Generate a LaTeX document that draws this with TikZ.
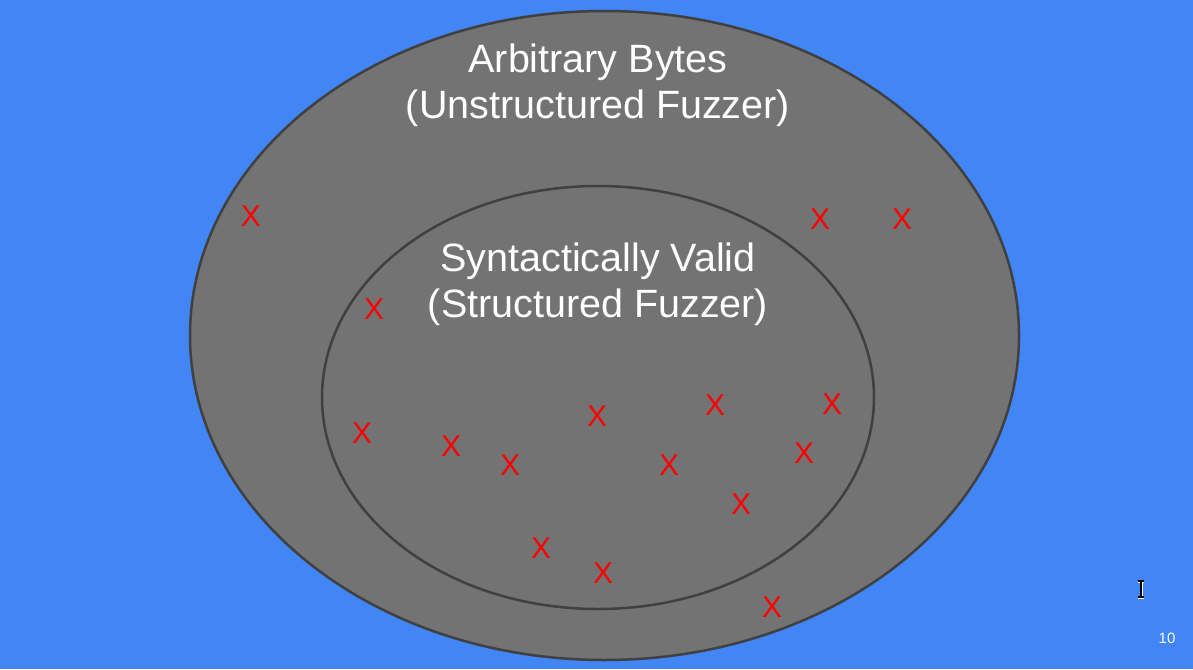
\documentclass[tikz,border=0pt]{standalone}
\usepackage{fontspec}
\setmainfont{Liberation Sans}
\definecolor{slideblue}{HTML}{4285F4}
\definecolor{setgray}{HTML}{737373}
\definecolor{edgegray}{HTML}{404040}
\tikzset{
  setfill/.style={fill=setgray, draw=edgegray, line width=2.5pt},
  setlabel/.style={text=white, align=center, font=\fontsize{39.5}{46}\selectfont},
  crash/.style={text=red, font=\fontsize{30}{30}\selectfont, inner sep=0pt}
}
\begin{document}
\begin{tikzpicture}[x=1pt, y=-1pt]
            % Define points
            \coordinate (Outer) at (604.5,335.5);
            \coordinate (Inner) at (598,397.5);
            \coordinate (Cursor) at (1141,589);

            % Background
            \fill[slideblue] (0,0) rectangle (1193,669);
            \useasboundingbox (0,0) rectangle (1193,669);

            % Draw the two sets
            \draw[setfill] (Outer) ellipse [x radius=414.5pt, y radius=324.5pt];
            \draw[setfill] (Inner) ellipse [x radius=276pt, y radius=211.5pt];

            % Label the sets
            \node[setlabel] (bytes) at (598,85) {Arbitrary Bytes\\(Unstructured Fuzzer)};
            \node[setlabel] (valid) at (598,284) {Syntactically Valid\\(Structured Fuzzer)};

            % Mark the crashes
            \foreach \px/\py [count=\i] in {251/216, 820/219, 902/219, 374/309,
                362/433, 451/446, 510/465, 597/416, 715/405, 832/404,
                669/465, 804/453, 741/504, 541/548, 603/573, 772/607}
              \node[crash] (x\i) at (\px,\py) {X};

            % Text cursor
            \draw[white, line width=3pt] ([yshift=-8]Cursor) -- ([yshift=8]Cursor)
              ([xshift=-3,yshift=-8]Cursor) -- ([xshift=3,yshift=-8]Cursor)
              ([xshift=-3,yshift=8]Cursor) -- ([xshift=3,yshift=8]Cursor);
            \draw[black, line width=1.2pt] ([yshift=-8]Cursor) -- ([yshift=8]Cursor)
              ([xshift=-3,yshift=-8]Cursor) -- ([xshift=3,yshift=-8]Cursor)
              ([xshift=-3,yshift=8]Cursor) -- ([xshift=3,yshift=8]Cursor);

            % Slide number
            \node[text=white, font=\fontsize{15}{15}\selectfont] (page) at (1167,638) {10};
\end{tikzpicture}
\end{document}
